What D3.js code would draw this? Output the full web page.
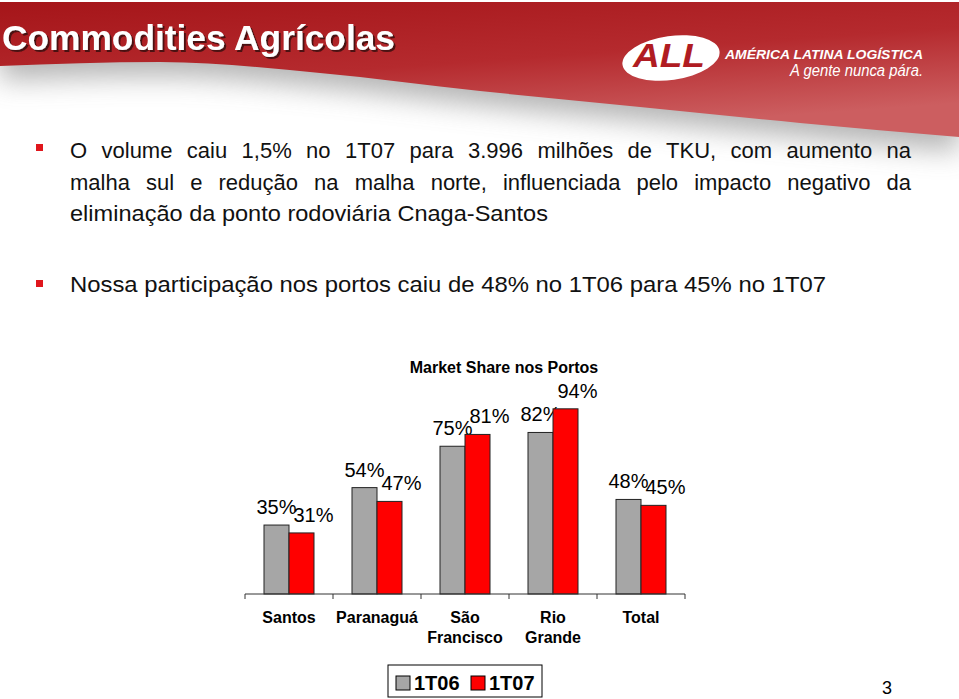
<!DOCTYPE html>
<html><head><meta charset="utf-8">
<script src="https://cdn.jsdelivr.net/npm/d3@7"></script>
<style>
html,body{margin:0;padding:0;background:#fff;}
svg{display:block;font-family:Arial,"Liberation Sans",sans-serif;}
</style></head>
<body>
<svg id="c" width="959" height="699"></svg>
<script>
// ---- data ----
const categories = [["Santos"], ["Paranaguá"], ["São", "Francisco"], ["Rio", "Grande"], ["Total"]];
const seriesNames = ["1T06", "1T07"];
const values1T06 = [35, 54, 75, 82, 48];
const values1T07 = [31, 47, 81, 94, 45];
const seriesColors = ["#a6a6a6", "#ff0000"];
const chartTitle = "Market Share nos Portos";
const slideTitle = "Commodities Agrícolas";
const bulletLines = [
  "O volume caiu 1,5% no 1T07 para 3.996 milhões de TKU, com aumento na",
  "malha sul e redução na malha norte, influenciada pelo impacto negativo da",
  "eliminação da ponto rodoviária Cnaga-Santos",
  "Nossa participação nos portos caiu de 48% no 1T06 para 45% no 1T07"
];

const svg = d3.select("#c");
const defs = svg.append("defs");

// ---- header ----
const rg = defs.append("linearGradient").attr("id","redg").attr("x1","0").attr("y1","0").attr("x2","0.5").attr("y2","1");
rg.append("stop").attr("offset","0").attr("stop-color","#a51519");
rg.append("stop").attr("offset","0.55").attr("stop-color","#b52a2e");
rg.append("stop").attr("offset","1").attr("stop-color","#cc5e60");
defs.append("filter").attr("id","blur").attr("x","-10%").attr("y","-50%").attr("width","120%").attr("height","250%")
  .append("feGaussianBlur").attr("stdDeviation", 14);
defs.append("filter").attr("id","shadow").attr("x","-5%").attr("y","-20%").attr("width","110%").attr("height","150%")
  .append("feDropShadow").attr("dx", 2).attr("dy", 2).attr("stdDeviation", 0.6)
  .attr("flood-color", "#3a0a0a").attr("flood-opacity", 0.85);

const boundary = [[0,66],[160,62],[320,73],[480,91],[640,107],[800,123],[959,137]];
const lineGen = d3.line().curve(d3.curveMonotoneX);
const headerPath = "M0,2 L959,2 L959,137 " + lineGen(boundary.slice().reverse()).replace(/^M/, "L") + " Z";

svg.append("path").attr("d", headerPath).attr("fill", "#9a9a9a").attr("opacity", 0.75)
  .attr("transform", "translate(0,14)").attr("filter", "url(#blur)");
svg.append("rect").attr("x",0).attr("y",0).attr("width",959).attr("height",2).attr("fill","#fff");
svg.append("path").attr("d", headerPath).attr("fill", "url(#redg)");

svg.append("text").attr("x", 2).attr("y", 50).attr("font-size", 35).attr("font-weight", "bold")
  .attr("fill", "#fff").attr("filter", "url(#shadow)")
  .attr("textLength", 393).attr("lengthAdjust","spacingAndGlyphs").text(slideTitle);

// logo
svg.append("ellipse").attr("cx", 671).attr("cy", 58).attr("rx", 49).attr("ry", 22)
  .attr("transform", "rotate(-8,671,58)").attr("fill", "#fff");
svg.append("text").attr("x", 633).attr("y", 67).attr("font-size", 33).attr("font-weight", "bold")
  .attr("font-style", "italic").attr("fill", "#b01c22").attr("textLength", 72).attr("lengthAdjust","spacingAndGlyphs").text("ALL");
svg.append("text").attr("x", 725).attr("y", 59).attr("font-size", 12.5).attr("font-weight", "bold")
  .attr("font-style", "italic").attr("fill", "#fff").attr("textLength", 198).attr("lengthAdjust","spacingAndGlyphs").text("AMÉRICA LATINA LOGÍSTICA");
svg.append("text").attr("x", 790).attr("y", 76).attr("font-size", 16)
  .attr("font-style", "italic").attr("fill", "#fff").attr("textLength", 133).attr("lengthAdjust","spacingAndGlyphs").text("A gente nunca pára.");

// ---- bullets ----
const bulletX = 70;
const lineY = [158, 190, 221, 292];
const lineTarget = [841, 841, 478, 756];
const justify = [true, true, false, false];
bulletLines.forEach((t, i) => {
  const tx = svg.append("text").attr("x", bulletX).attr("y", lineY[i]).attr("font-size", 22).attr("fill", "#111").text(t);
  if (justify[i]) {
    const w = tx.node().getComputedTextLength();
    const spaces = (t.match(/ /g) || []).length;
    tx.attr("word-spacing", (lineTarget[i] - w) / spaces);
  } else {
    tx.attr("textLength", lineTarget[i]).attr("lengthAdjust", "spacingAndGlyphs");
  }
});
[144, 280].forEach(y => svg.append("rect").attr("x", 36).attr("y", y).attr("width", 7).attr("height", 7).attr("fill", "#e0161c"));

// ---- chart ----
const x = d3.scaleBand().domain(d3.range(categories.length)).range([245, 685]).padding(0);
const xs = d3.scaleBand().domain(seriesNames).range([19, 69]).padding(0);
const y = d3.scaleLinear().domain([0, 100]).range([594, 397]);

svg.append("text").attr("x", 504).attr("y", 373).attr("text-anchor", "middle")
  .attr("font-size", 16).attr("font-weight", "bold").attr("fill", "#000").text(chartTitle);

const series = [values1T06, values1T07];
const labelDx = [0, 12];
series.forEach((vals, si) => {
  const g = svg.append("g");
  g.selectAll("rect").data(vals).join("rect")
    .attr("x", (d, i) => x(i) + xs(seriesNames[si]))
    .attr("y", d => y(d))
    .attr("width", xs.bandwidth())
    .attr("height", d => y(0) - y(d))
    .attr("fill", seriesColors[si]).attr("stroke", "#222").attr("stroke-width", 1);
  g.selectAll("text").data(vals).join("text")
    .attr("x", (d, i) => x(i) + xs(seriesNames[si]) + xs.bandwidth() / 2 + labelDx[si])
    .attr("y", d => y(d) - 11)
    .attr("text-anchor", "middle").attr("font-size", 20).attr("fill", "#000")
    .text(d => d + "%");
});

// axis
const axisG = svg.append("g").attr("transform", `translate(0,${y(0)})`);
axisG.append("line").attr("x1", x.range()[0]).attr("x2", x.range()[1]).attr("stroke", "#333");
const tickPos = d3.range(categories.length).map(i => x(i)).concat([x.range()[1]]);
axisG.selectAll(".tk").data(tickPos).join("line").attr("class","tk")
  .attr("x1", d => d).attr("x2", d => d).attr("y1", 0).attr("y2", 5).attr("stroke", "#333");

categories.forEach((lines, i) => {
  const t = svg.append("text").attr("text-anchor", "middle").attr("font-size", 16).attr("font-weight", "bold").attr("fill", "#000");
  lines.forEach((l, j) => t.append("tspan").attr("x", x(i) + x.bandwidth() / 2).attr("y", 623 + j * 20).text(l));
});

// legend
const lg = svg.append("g");
lg.append("rect").attr("x", 388).attr("y", 665).attr("width", 154).attr("height", 32).attr("fill", "#fff").attr("stroke", "#000");
const legX = [396, 471];
seriesNames.forEach((n, i) => {
  lg.append("rect").attr("x", legX[i]).attr("y", 676).attr("width", 14).attr("height", 14).attr("fill", seriesColors[i]).attr("stroke", "#000");
  lg.append("text").attr("x", legX[i] + 18).attr("y", 690).attr("font-size", 20).attr("font-weight", "bold").attr("fill", "#000").text(n);
});

// page number
svg.append("text").attr("x", 882).attr("y", 694).attr("font-size", 18).attr("fill", "#000").text("3");
</script>
</body></html>
